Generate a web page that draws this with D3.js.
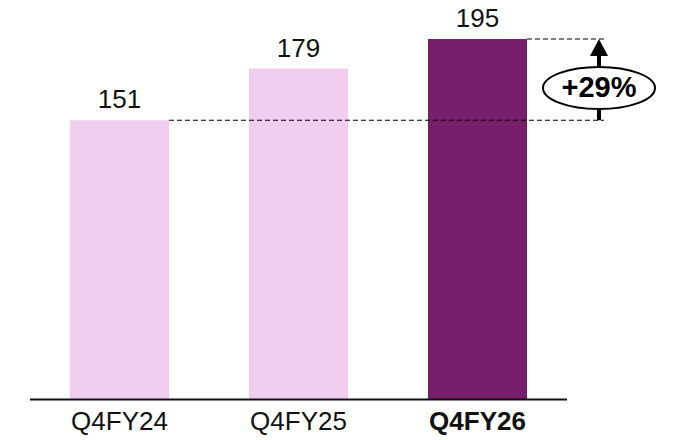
<!DOCTYPE html>
<html>
<head>
<meta charset="utf-8">
<script src="https://cdn.jsdelivr.net/npm/d3@7"></script>
<style>
  body { margin: 0; background: #fff; }
</style>
</head>
<body>
<div id="chart"></div>
<script>
const categories = ["Q4FY24", "Q4FY25", "Q4FY26"];
const values = [151, 179, 195];
const growthLabel = "+29%";

const WIDTH = 674, HEIGHT = 440;
const BASE = 399, TOP = 39;
const FONT = "Liberation Sans, Arial, sans-serif";

const svg = d3.select("#chart").append("svg")
    .attr("width", WIDTH)
    .attr("height", HEIGHT);

const x = d3.scaleBand()
    .domain(categories)
    .range([30, 567])
    .paddingInner(0.447)
    .paddingOuter(0.2235);

const y = d3.scaleLinear()
    .domain([0, d3.max(values)])
    .range([BASE, TOP]);

const data = categories.map((c, i) => ({ cat: c, val: values[i], last: i === categories.length - 1 }));

svg.selectAll("rect.bar")
    .data(data)
    .enter()
    .append("rect")
    .attr("class", "bar")
    .attr("x", d => x(d.cat))
    .attr("y", d => y(d.val))
    .attr("width", x.bandwidth())
    .attr("height", d => BASE - y(d.val))
    .attr("fill", d => d.last ? "#771f6b" : "#f0cdee");

// value labels
svg.selectAll("text.val")
    .data(data)
    .enter()
    .append("text")
    .attr("class", "val")
    .attr("x", d => x(d.cat) + x.bandwidth() / 2)
    .attr("y", d => y(d.val) - 12)
    .attr("text-anchor", "middle")
    .style("font-family", FONT)
    .style("font-size", "26px")
    .attr("fill", "#111")
    .text(d => d.val);

// x axis
const xAxis = d3.axisBottom(x).tickSize(0).tickPadding(13);
const gx = svg.append("g")
    .attr("transform", `translate(0, ${BASE})`)
    .call(xAxis);
gx.select(".domain").attr("d", "M30,0.5H567").attr("stroke", "#111").attr("stroke-width", 2);
gx.selectAll(".tick text")
    .style("font-family", FONT)
    .style("font-size", "26px")
    .style("font-weight", (d, i) => i === categories.length - 1 ? "bold" : "normal")
    .attr("fill", "#111");

// growth annotation
const first = data[0], last = data[data.length - 1];
const ax = 599;
svg.append("line")
    .attr("x1", x(first.cat) + x.bandwidth())
    .attr("x2", 604)
    .attr("y1", y(first.val)).attr("y2", y(first.val))
    .attr("stroke", "#000").attr("stroke-width", 1.2)
    .attr("stroke-dasharray", "5,3");
svg.append("line")
    .attr("x1", x(last.cat) + x.bandwidth())
    .attr("x2", 607)
    .attr("y1", y(last.val)).attr("y2", y(last.val))
    .attr("stroke", "#000").attr("stroke-width", 1.2)
    .attr("stroke-dasharray", "5,3");

const ey = 88, rx = 56, ry = 21;
svg.append("line")
    .attr("x1", ax).attr("x2", ax)
    .attr("y1", y(first.val)).attr("y2", ey + ry)
    .attr("stroke", "#000").attr("stroke-width", 4);
svg.append("line")
    .attr("x1", ax).attr("x2", ax)
    .attr("y1", ey - ry).attr("y2", y(last.val) + 14)
    .attr("stroke", "#000").attr("stroke-width", 4);
const tipY = y(last.val);
svg.append("path")
    .attr("d", `M${ax},${tipY} L${ax - 9},${tipY + 17} L${ax + 9},${tipY + 17} Z`)
    .attr("fill", "#000");

svg.append("ellipse")
    .attr("cx", ax).attr("cy", ey)
    .attr("rx", rx).attr("ry", ry)
    .attr("fill", "#fff")
    .attr("stroke", "#000").attr("stroke-width", 2);
svg.append("text")
    .attr("x", ax).attr("y", ey + 9)
    .attr("text-anchor", "middle")
    .style("font-family", FONT)
    .style("font-size", "29px")
    .style("font-weight", "bold")
    .text(growthLabel);
</script>
</body>
</html>
